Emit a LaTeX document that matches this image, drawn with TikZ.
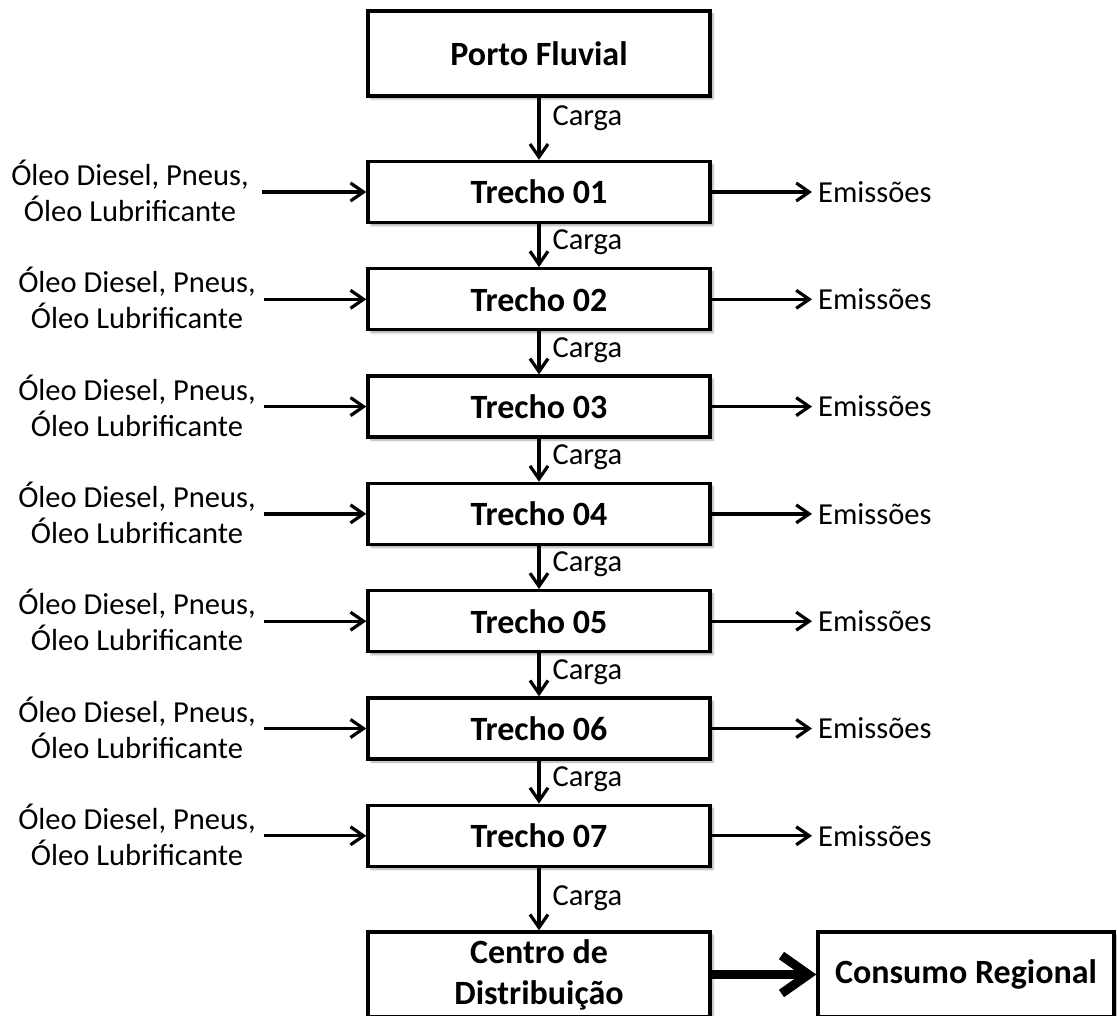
\documentclass[tikz,border=0pt]{standalone}
\usepackage{fontspec}
\setmainfont{Carlito}
\usetikzlibrary{arrows.meta,shadows.blur}
\begin{document}
\begin{tikzpicture}[x=1pt,y=-1pt,
  box/.style={draw,line width=3.4pt,fill=white,minimum width=342pt,inner sep=0pt,
    font=\fontsize{34}{41}\selectfont\bfseries,align=center,
    blur shadow={shadow xshift=3pt,shadow yshift=-3pt,shadow opacity=35,shadow blur steps=6}},
  stagebox/.style={box,minimum height=61pt},
  endbox/.style={box,minimum height=85pt},
  lbl/.style={font=\fontsize{30.5}{36}\selectfont,align=center,inner sep=0pt},
  flow/.style={line width=3.2pt,-{Straight Barb[length=13pt,width=18pt]}},
  bigflow/.style={line width=9pt,-{Straight Barb[length=27pt,width=38pt]}}]
\useasboundingbox (0,0) rectangle (1117,1016);

% main chain of boxes
\node[endbox] (porto) at (539,53.5) {Porto Fluvial};
\foreach \i in {1,...,7}{
  \pgfmathsetmacro{\yy}{192+107.3*(\i-1)}
  \pgfmathsetmacro{\lx}{ifthenelse(\i==1,130,137)}
  \pgfmathsetmacro{\gap}{ifthenelse(\i==1,13,8)}
  \node[stagebox] (t\i) at (539,\yy) {Trecho 0\i};
  \node[lbl,inner xsep=\gap pt] (in\i) at (\lx,\yy-1) {Óleo Diesel, Pneus,\\Óleo Lubrificante};
  \node[lbl,anchor=west,inner xsep=6pt] (em\i) at (812,\yy) {Emissões};
  \draw[flow] (in\i.east |- t\i.west) -- (t\i.west);
  \draw[flow] (t\i.east) -- (em\i.west);
}
\node[endbox] (centro) at (539,974.5) {Centro de\\Distribuição};
\node[endbox,minimum width=296pt] (consumo) at (966,974.5) {Consumo Regional};

% cargo flow between the stages
\draw[flow] (porto) -- node[lbl,anchor=west,xshift=12pt,yshift=11pt] {Carga} (t1);
\foreach \i [evaluate=\i as \j using int(\i+1)] in {1,...,6}{
  \draw[flow] (t\i) -- node[lbl,anchor=west,xshift=12pt,yshift=3pt] {Carga} (t\j);
}
\draw[flow] (t7) -- node[lbl,anchor=west,xshift=12pt,yshift=1pt] {Carga} (centro);
\draw[bigflow] (centro) -- (consumo);
\end{tikzpicture}
\end{document}
